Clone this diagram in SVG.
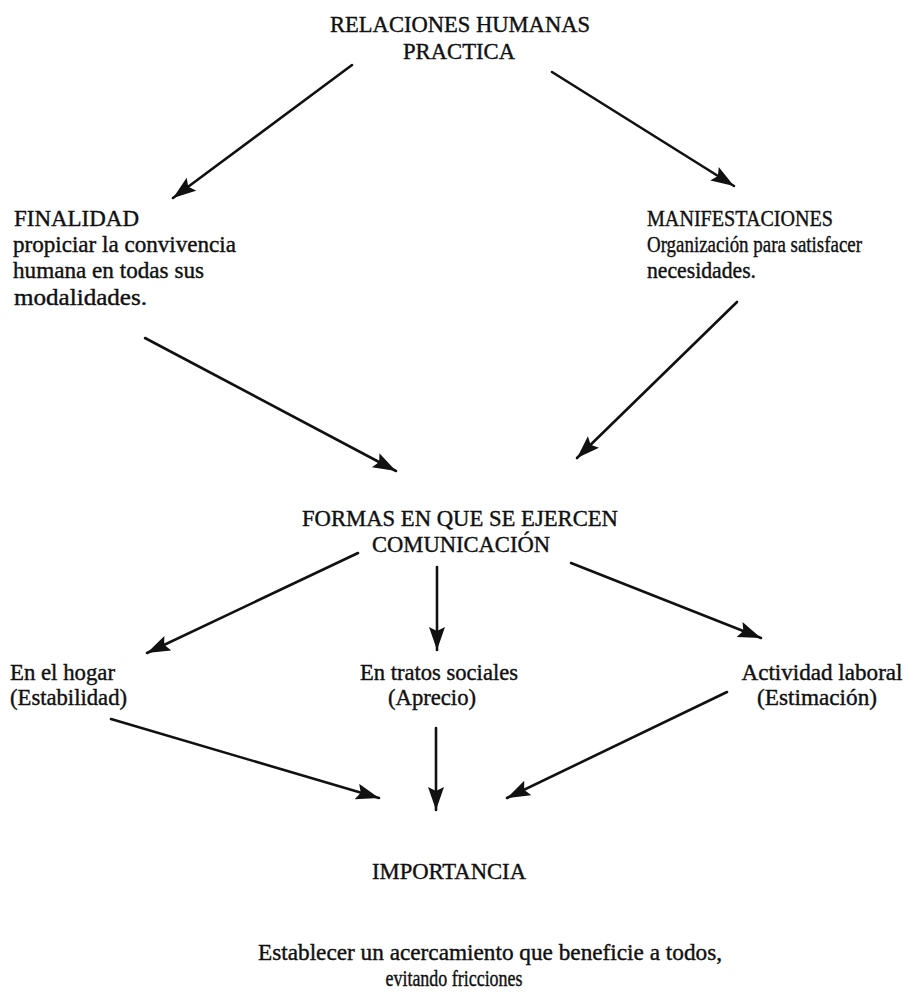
<svg xmlns="http://www.w3.org/2000/svg" width="914" height="996" viewBox="0 0 914 996">
<style>
text{font-family:"Liberation Serif","Times New Roman",serif;font-size:23px;fill:#111;stroke:#111;stroke-width:0.4px}
.c{text-anchor:middle}
.s{font-size:23px}
#connectors line{stroke:#111;stroke-width:2.6;stroke-linecap:round;marker-end:url(#ah)}
</style>
<defs>
<marker id="ah" markerUnits="userSpaceOnUse" markerWidth="26" markerHeight="18" refX="23" refY="8" orient="auto" viewBox="0 0 26 18">
<path d="M0,0 L23,8 L0,16 L4,8 z" fill="#111"/>
</marker>
</defs>
<rect width="914" height="996" fill="#fff"/>
<g id="n-relaciones">
<text x="460" y="32" class="c" textLength="260" lengthAdjust="spacingAndGlyphs">RELACIONES HUMANAS</text>
<text x="459" y="59" class="c" textLength="112" lengthAdjust="spacingAndGlyphs">PRACTICA</text>
</g>
<g id="n-finalidad">
<text x="14" y="226" textLength="125" lengthAdjust="spacingAndGlyphs">FINALIDAD</text>
<text x="13" y="252" class="s" textLength="223" lengthAdjust="spacingAndGlyphs">propiciar la convivencia</text>
<text x="13" y="278" class="s" textLength="191" lengthAdjust="spacingAndGlyphs">humana en todas sus</text>
<text x="14" y="305" class="s" textLength="133" lengthAdjust="spacingAndGlyphs">modalidades.</text>
</g>
<g id="n-manifestaciones">
<text x="647" y="226" textLength="186" lengthAdjust="spacingAndGlyphs">MANIFESTACIONES</text>
<text x="647" y="252" class="s" textLength="215" lengthAdjust="spacingAndGlyphs">Organización para satisfacer</text>
<text x="647" y="278" class="s" textLength="109" lengthAdjust="spacingAndGlyphs">necesidades.</text>
</g>
<g id="n-formas">
<text x="460" y="526" class="c" textLength="316" lengthAdjust="spacingAndGlyphs">FORMAS EN QUE SE EJERCEN</text>
<text x="461" y="552" class="c" textLength="178" lengthAdjust="spacingAndGlyphs">COMUNICACIÓN</text>
</g>
<g id="n-hogar">
<text x="10" y="680" class="s" textLength="105" lengthAdjust="spacingAndGlyphs">En el hogar</text>
<text x="10" y="705" class="s" textLength="117" lengthAdjust="spacingAndGlyphs">(Estabilidad)</text>
</g>
<g id="n-tratos">
<text x="439" y="680" class="c s" textLength="158" lengthAdjust="spacingAndGlyphs">En tratos sociales</text>
<text x="432" y="705" class="c s" textLength="88" lengthAdjust="spacingAndGlyphs">(Aprecio)</text>
</g>
<g id="n-laboral">
<text x="822" y="680" class="c s" textLength="161" lengthAdjust="spacingAndGlyphs">Actividad laboral</text>
<text x="817" y="705" class="c s" textLength="120" lengthAdjust="spacingAndGlyphs">(Estimación)</text>
</g>
<g id="n-importancia">
<text x="449" y="879" class="c" textLength="154" lengthAdjust="spacingAndGlyphs">IMPORTANCIA</text>
</g>
<g id="n-establecer">
<text x="490" y="960" class="c s" textLength="464" lengthAdjust="spacingAndGlyphs">Establecer un acercamiento que beneficie a todos,</text>
<text x="454" y="986" class="c s" textLength="137" lengthAdjust="spacingAndGlyphs">evitando fricciones</text>
</g>
<g id="connectors">
<line x1="352" y1="65" x2="173" y2="198"/>
<line x1="552" y1="72" x2="734" y2="186"/>
<line x1="145" y1="338" x2="396" y2="471"/>
<line x1="737" y1="302" x2="577" y2="458"/>
<line x1="358" y1="553" x2="147" y2="653"/>
<line x1="437" y1="567" x2="437" y2="650"/>
<line x1="571" y1="563" x2="761" y2="638"/>
<line x1="111" y1="719" x2="379" y2="798"/>
<line x1="436" y1="728" x2="436" y2="810"/>
<line x1="727" y1="692" x2="507" y2="798"/>
</g>
</svg>
